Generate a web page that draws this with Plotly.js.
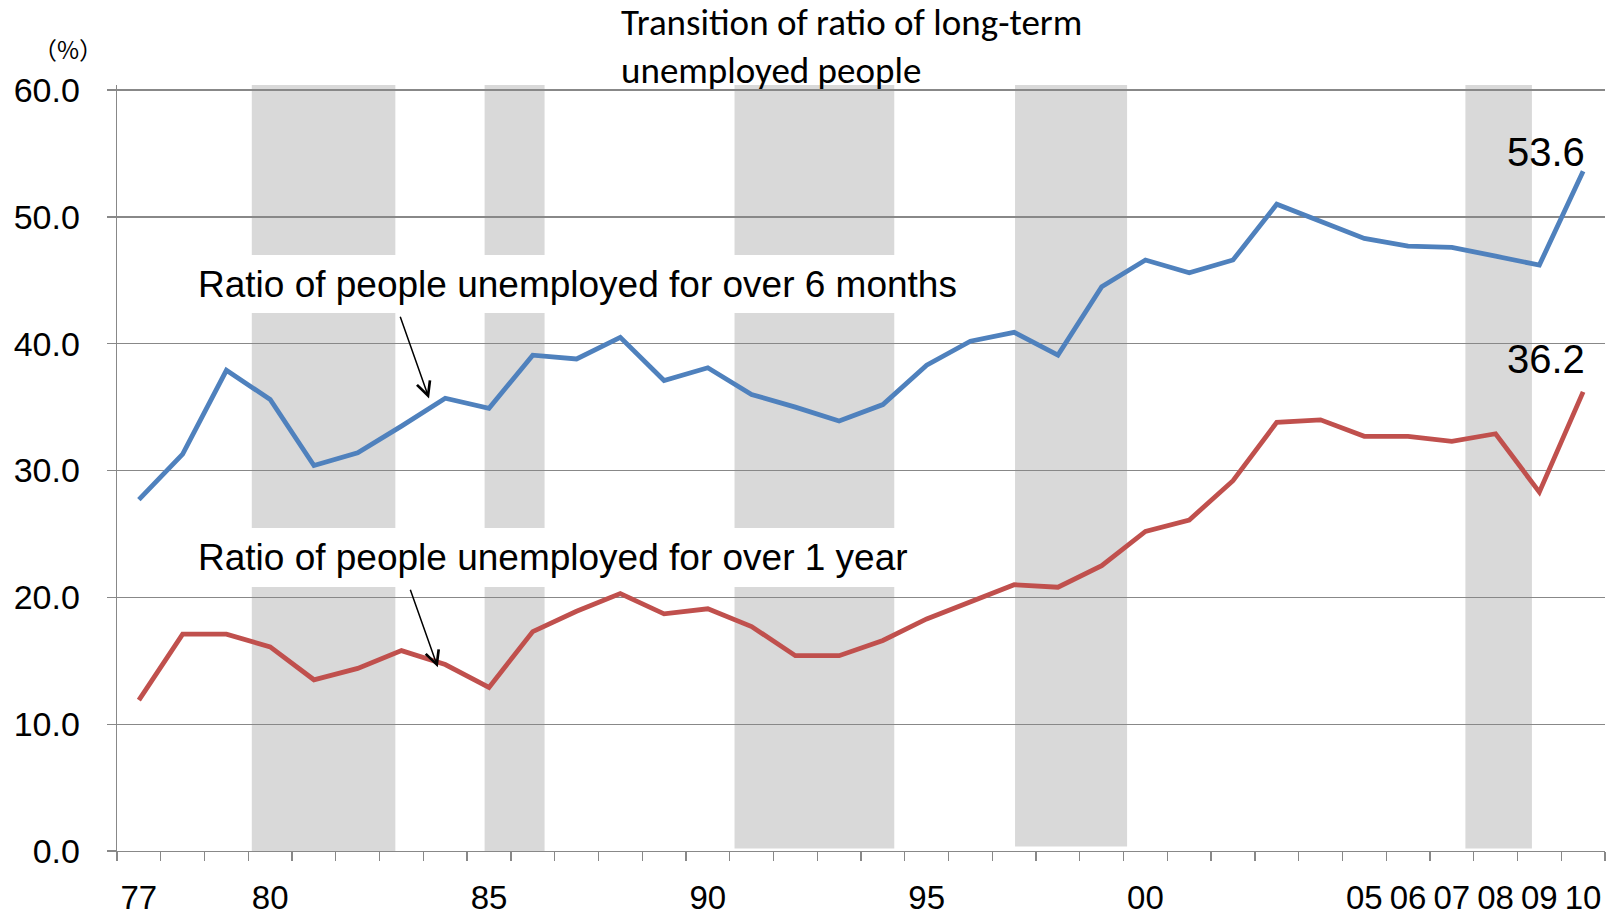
<!DOCTYPE html>
<html>
<head>
<meta charset="utf-8">
<script src="https://cdn.plot.ly/plotly-3.0.1.min.js"></script>
<style>
  html, body { margin: 0; padding: 0; background: #ffffff; }
  #chart { width: 1610px; height: 917px; }
</style>
</head>
<body>
<div id="chart"></div>
<script>
// ---- Data ----
var years = [1977, 1978, 1979, 1980, 1981, 1982, 1983, 1984, 1985, 1986,
             1987, 1988, 1989, 1990, 1991, 1992, 1993, 1994, 1995, 1996,
             1997, 1998, 1999, 2000, 2001, 2002, 2003, 2004, 2005, 2006,
             2007, 2008, 2009, 2010];

var overSixMonths = [27.7, 31.3, 37.9, 35.6, 30.4, 31.4, 33.5, 35.7, 34.9, 39.1,
                     38.8, 40.5, 37.1, 38.1, 36.0, 35.0, 33.9, 35.2, 38.3, 40.2,
                     40.9, 39.1, 44.5, 46.6, 45.6, 46.6, 51.0, 49.7, 48.3, 47.7,
                     47.6, 46.9, 46.2, 53.6];

var overOneYear = [11.9, 17.1, 17.1, 16.1, 13.5, 14.4, 15.8, 14.7, 12.9, 17.3,
                   18.9, 20.3, 18.7, 19.1, 17.7, 15.4, 15.4, 16.6, 18.3, 19.7,
                   21.0, 20.8, 22.5, 25.2, 26.1, 29.2, 33.8, 34.0, 32.7, 32.7,
                   32.3, 32.9, 28.3, 36.2];

var tickYears  = [1977, 1980, 1985, 1990, 1995, 2000, 2005, 2006, 2007, 2008, 2009, 2010];
var tickLabels = ['77', '80', '85', '90', '95', '00', '05', '06', '07', '08', '09', '10'];

// category boundaries (tick marks sit between years)
var yearBoundaries = [1976.5, 1977.5, 1978.5, 1979.5, 1980.5, 1981.5, 1982.5, 1983.5, 1984.5,
                      1985.5, 1986.5, 1987.5, 1988.5, 1989.5, 1990.5, 1991.5, 1992.5, 1993.5,
                      1994.5, 1995.5, 1996.5, 1997.5, 1998.5, 1999.5, 2000.5, 2001.5, 2002.5,
                      2003.5, 2004.5, 2005.5, 2006.5, 2007.5, 2008.5, 2009.5, 2010.5];

// recession periods (shaded)
var recessionStart = [1979.58, 1984.90, 1990.61, 1997.02, 2007.31];
var recessionEnd   = [1982.86, 1986.27, 1994.26, 1999.58, 2008.83];
var recessionLow   = [0, 0, 0.2, 0.35, 0.2];
var recessionHigh  = 60.4;

var seriesNames = ['Ratio of people unemployed for over 6 months',
                   'Ratio of people unemployed for over 1 year'];
var seriesColors = ['#4F81BD', '#C0504D'];

var FONT = '"Liberation Sans", Arial, sans-serif';

// ---- Traces ----
var traces = [
  {x: years, y: overSixMonths, type: 'scatter', mode: 'lines', name: seriesNames[0],
   line: {color: seriesColors[0], width: 4.8}, hoverinfo: 'x+y'},
  {x: years, y: overOneYear, type: 'scatter', mode: 'lines', name: seriesNames[1],
   line: {color: seriesColors[1], width: 4.8}, hoverinfo: 'x+y'}
];

// ---- Shapes (recession bands) ----
var shapes = recessionStart.map(function (s, i) {
  return {type: 'rect', xref: 'x', yref: 'y', layer: 'below',
          x0: s, x1: recessionEnd[i], y0: recessionLow[i], y1: recessionHigh,
          fillcolor: '#D9D9D9', line: {width: 0}};
});

// ---- Annotations ----
var lastIdx = years.length - 1;
var annotations = [
  // series labels with white boxes (break the shaded bands)
  {xref: 'x', yref: 'y', x: 1978.36, y: 44.68, xanchor: 'left', yanchor: 'middle',
   text: seriesNames[0], showarrow: false, align: 'left',
   width: 790, height: 58, bgcolor: '#ffffff', borderpad: 0, borderwidth: 0,
   font: {family: FONT, size: 37, color: '#000000'}},
  {xref: 'x', yref: 'y', x: 1978.36, y: 23.11, xanchor: 'left', yanchor: 'middle',
   text: seriesNames[1], showarrow: false, align: 'left',
   width: 765, height: 59, bgcolor: '#ffffff', borderpad: 0, borderwidth: 0,
   font: {family: FONT, size: 37, color: '#000000'}},
  // arrows
  {xref: 'x', yref: 'y', x: 1983.63, y: 35.69, axref: 'x', ayref: 'y', ax: 1982.96, ay: 42.25,
   text: '', showarrow: true, arrowhead: 5, arrowsize: 1.8, arrowwidth: 1.5, arrowcolor: '#000000',
   standoff: 0, startstandoff: 0},
  {xref: 'x', yref: 'y', x: 1983.83, y: 14.48, axref: 'x', ayref: 'y', ax: 1983.19, ay: 20.71,
   text: '', showarrow: true, arrowhead: 5, arrowsize: 1.8, arrowwidth: 1.5, arrowcolor: '#000000',
   standoff: 0, startstandoff: 0},
  // end value labels
  {xref: 'x', yref: 'y', x: years[lastIdx], y: overSixMonths[lastIdx], xanchor: 'right', yanchor: 'middle',
   xshift: 4, yshift: 19, text: overSixMonths[lastIdx].toFixed(1), showarrow: false,
   font: {family: FONT, size: 40, color: '#000000'}},
  {xref: 'x', yref: 'y', x: years[lastIdx], y: overOneYear[lastIdx], xanchor: 'right', yanchor: 'middle',
   xshift: 4, yshift: 33, text: overOneYear[lastIdx].toFixed(1), showarrow: false,
   font: {family: FONT, size: 40, color: '#000000'}},
  // unit label
  {xref: 'paper', yref: 'paper', x: -0.033, y: 1.048, xanchor: 'center', yanchor: 'middle',
   text: '（%）', showarrow: false,
   font: {family: '"Noto Sans CJK JP", "Noto Sans", sans-serif', size: 24, color: '#000000'}}
];

var layout = {
  width: 1610, height: 917,
  margin: {l: 117, r: 5, t: 85, b: 66, pad: 0},
  paper_bgcolor: '#ffffff', plot_bgcolor: '#ffffff',
  showlegend: false,
  title: {
    text: 'Transition of ratio of long-term<br>unemployed people',
    x: 621 / 1610, xanchor: 'left', xref: 'container',
    y: 0.962, yanchor: 'top', yref: 'container',
    font: {family: 'Carlito, Calibri, Lato, sans-serif', size: 37, color: '#000000'}
  },
  xaxis: {
    range: [1976.5, 2010.5],
    tickmode: 'array', tickvals: tickYears, ticktext: tickLabels,
    ticks: 'outside', ticklen: 9, tickcolor: 'rgba(0,0,0,0)', tickwidth: 1.3,
    ticklabelstandoff: 8,
    minor: {tickmode: 'array', tickvals: yearBoundaries, ticks: 'outside',
            ticklen: 9, tickwidth: 1.3, tickcolor: '#888888', showgrid: false},
    showgrid: false, zeroline: false,
    showline: true, linecolor: '#888888', linewidth: 1.3,
    tickfont: {family: FONT, size: 33, color: '#000000'},
    fixedrange: true
  },
  yaxis: {
    range: [0, 60.4],
    tickmode: 'array', tickvals: [0, 10, 20, 30, 40, 50, 60],
    tickformat: '.1f',
    ticks: 'outside', ticklen: 9, tickwidth: 1.3, tickcolor: '#888888',
    ticklabelstandoff: 20,
    showgrid: true, gridcolor: '#888888', gridwidth: 1.3,
    zeroline: false,
    showline: true, linecolor: '#888888', linewidth: 1.3,
    tickfont: {family: FONT, size: 34, color: '#000000'},
    fixedrange: true
  },
  shapes: shapes,
  annotations: annotations
};

Plotly.newPlot('chart', traces, layout, {displayModeBar: false, staticPlot: true});
</script>
</body>
</html>
